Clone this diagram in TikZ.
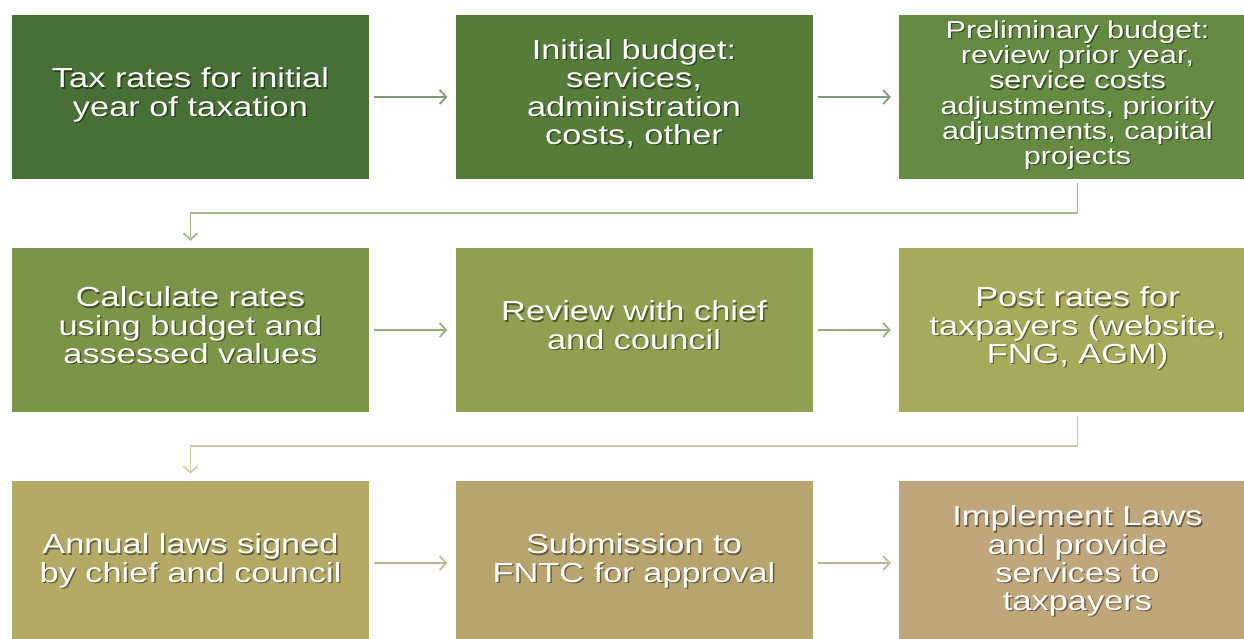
\documentclass[tikz,border=0pt]{standalone}
\usepackage{fontspec}
\setmainfont{Liberation Sans}[FakeStretch=1.25]
\usepackage{tikz}
\usetikzlibrary{arrows.meta, positioning}

% box fills, darkest green to tan
\definecolor{stepA}{HTML}{486F35}
\definecolor{stepB}{HTML}{567C3A}
\definecolor{stepC}{HTML}{658A42}
\definecolor{stepD}{HTML}{7B9548}
\definecolor{stepE}{HTML}{8FA150}
\definecolor{stepF}{HTML}{A8AA5B}
\definecolor{stepG}{HTML}{B4AA66}
\definecolor{stepH}{HTML}{B8A56D}
\definecolor{stepI}{HTML}{BFA77B}
% connector strokes
\definecolor{arrA}{HTML}{7A9C72}
\definecolor{arrB}{HTML}{98AC78}
\definecolor{arrC}{HTML}{C2B48C}
\definecolor{backA}{HTML}{A2B785}
\definecolor{backB}{HTML}{D2CA9E}

% white text with a soft dark copy underneath
\newcommand{\shadowed}[1]{%
	\setbox0\hbox{\begin{tabular}{@{}c@{}}#1\end{tabular}}%
	\rlap{\kern1.4pt\lower1.4pt\hbox{\pgfsetfillopacity{0.45}\color{black}\begin{tabular}{@{}c@{}}#1\end{tabular}}}%
	\pgfsetfillopacity{1}\box0}

\tikzset{
	stepbox/.style={rectangle, fill=#1, minimum width=357pt, minimum height=164pt, inner sep=0pt, text=white, align=center, font=\fontsize{27.5}{28}\selectfont},
	flowarr/.style={draw=#1, line width=1.7pt, -{Straight Barb[length=6.5pt, width=14pt]}},
}

\begin{document}
\begin{tikzpicture}[x=1pt, y=1pt]
	\useasboundingbox (0,0) rectangle (1244,-639);
	% first row
	\node[stepbox=stepA] (taxrates) at (190.5,-97) {\shadowed{Tax rates for initial\\year of taxation}};
	\node[stepbox=stepB] (initbudget) at (634,-97) {\shadowed{Initial budget:\\services,\\administration\\costs, other}};
	\node[stepbox=stepC, font=\fontsize{24.5}{25}\selectfont] (prelim) at (1077.5,-97) {\shadowed{Preliminary budget:\\review prior year,\\service costs\\adjustments, priority\\adjustments, capital\\projects}};
	% second row
	\node[stepbox=stepD] (calcrates) at (190.5,-330) {\shadowed{Calculate rates\\using budget and\\assessed values}};
	\node[stepbox=stepE] (review) at (634,-330) {\shadowed{Review with chief\\and council}};
	\node[stepbox=stepF] (postrates) at (1077.5,-330) {\shadowed{Post rates for\\taxpayers (website,\\FNG, AGM)}};
	% third row
	\node[stepbox=stepG] (annual) at (190.5,-563) {\shadowed{Annual laws signed\\by chief and council}};
	\node[stepbox=stepH] (submit) at (634,-563) {\shadowed{Submission to\\FNTC for approval}};
	\node[stepbox=stepI] (implement) at (1077.5,-563) {\shadowed{Implement Laws\\and provide\\services to\\taxpayers}};

	\draw[flowarr=arrA] ([xshift=5pt]taxrates.east) -- ([xshift=-8pt]initbudget.west);
	\draw[flowarr=arrA] ([xshift=5pt]initbudget.east) -- ([xshift=-8pt]prelim.west);
	\draw[flowarr=arrB] ([xshift=5pt]calcrates.east) -- ([xshift=-8pt]review.west);
	\draw[flowarr=arrB] ([xshift=5pt]review.east) -- ([xshift=-8pt]postrates.west);
	\draw[flowarr=arrC] ([xshift=5pt]annual.east) -- ([xshift=-8pt]submit.west);
	\draw[flowarr=arrC] ([xshift=5pt]submit.east) -- ([xshift=-8pt]implement.west);

	% wrap round to the next row
	\draw[flowarr=backA] ([yshift=-4pt]prelim.south) -- ++(0,-30) -| ([yshift=7pt]calcrates.north);
	\draw[flowarr=backB] ([yshift=-4pt]postrates.south) -- ++(0,-30) -| ([yshift=7pt]annual.north);
\end{tikzpicture}
\end{document}
